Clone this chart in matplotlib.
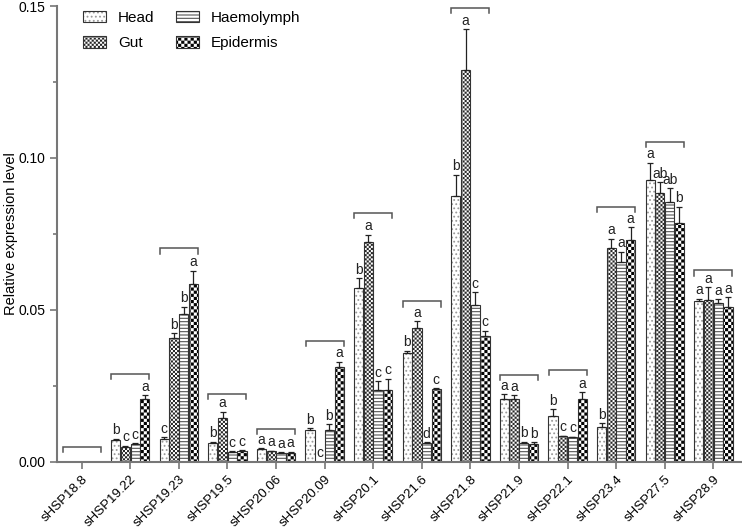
import numpy as np
import matplotlib.pyplot as plt
from matplotlib import hatch as mhatch
from matplotlib.path import Path
from matplotlib.patches import Rectangle
from matplotlib.ticker import MultipleLocator, FormatStrFormatter

plt.rcParams['font.family'] = ['Liberation Sans', 'DejaVu Sans']
plt.rcParams['hatch.linewidth'] = 0.8


# matplotlib has no checkerboard hatch, so swap the '*' (stars) hatch for one
class CheckerHatch(mhatch.HatchPatternBase):
    def __init__(self, hatch, density):
        self.n = hatch.count('*') * 8
        self.filled = True
        self.num_lines = 0
        self.num_vertices = (self.n * self.n // 2) * 5

    def set_vertices_and_codes(self, vertices, codes):
        step = 1.0 / self.n
        # shrink squares so the hatch stroke does not make them too fat
        inset = plt.rcParams['hatch.linewidth'] / 72.0 / 2
        k = 0
        for i in range(self.n):
            for j in range(self.n):
                if (i + j) % 2:
                    continue
                x0, y0 = i * step + inset, j * step + inset
                x1, y1 = (i + 1) * step - inset, (j + 1) * step - inset
                vertices[k:k + 5] = [(x0, y0), (x1, y0), (x1, y1), (x0, y1), (x0, y0)]
                codes[k:k + 5] = [Path.MOVETO, Path.LINETO, Path.LINETO,
                                  Path.LINETO, Path.CLOSEPOLY]
                k += 5


mhatch._hatch_types = [t for t in mhatch._hatch_types if t is not mhatch.Stars] + [CheckerHatch]

genes = ["sHSP18.8", "sHSP19.22", "sHSP19.23", "sHSP19.5", "sHSP20.06", "sHSP20.09",
         "sHSP20.1", "sHSP21.6", "sHSP21.8", "sHSP21.9", "sHSP22.1", "sHSP23.4",
         "sHSP27.5", "sHSP28.9"]
tissues = ["Head", "Gut", "Haemolymph", "Epidermis"]

head = [0, 0.0072, 0.0075, 0.0063, 0.0042, 0.0104, 0.0572, 0.0358, 0.0874, 0.0206, 0.0152, 0.0115, 0.0929, 0.0530]
gut = [0, 0.0050, 0.0409, 0.0145, 0.0034, 0, 0.0722, 0.0440, 0.1288, 0.0206, 0.0084, 0.0704, 0.0883, 0.0532]
haem = [0, 0.0057, 0.0486, 0.0031, 0.0028, 0.0104, 0.0236, 0.0063, 0.0516, 0.0063, 0.0081, 0.0656, 0.0854, 0.0522]
epid = [0, 0.0207, 0.0585, 0.0036, 0.0030, 0.0313, 0.0236, 0.0239, 0.0414, 0.0057, 0.0206, 0.0729, 0.0786, 0.0509]

head_err = [0, 0.0004, 0.0005, 0.0003, 0.0003, 0.0006, 0.0033, 0.0007, 0.0071, 0.0017, 0.0021, 0.0011, 0.0055, 0.0007]
gut_err = [0, 0.0003, 0.0015, 0.0020, 0.0003, 0, 0.0025, 0.0022, 0.0135, 0.0013, 0.0002, 0.0030, 0.0037, 0.0042]
haem_err = [0, 0.0004, 0.0025, 0.0003, 0.0003, 0.0020, 0.0030, 0.0002, 0.0043, 0.0003, 0.0002, 0.0036, 0.0047, 0.0014]
epid_err = [0, 0.0013, 0.0044, 0.0003, 0.0003, 0.0017, 0.0037, 0.0004, 0.0017, 0.0008, 0.0023, 0.0043, 0.0053, 0.0032]

# significance letters per gene, in tissue order
letters = [
    ["", "", "", ""],
    ["b", "c", "c", "a"],
    ["c", "b", "b", "a"],
    ["b", "a", "c", "c"],
    ["a", "a", "a", "a"],
    ["b", "c", "b", "a"],
    ["b", "a", "c", "c"],
    ["b", "a", "d", "c"],
    ["b", "a", "c", "c"],
    ["a", "a", "b", "b"],
    ["b", "c", "c", "a"],
    ["b", "a", "a", "a"],
    ["a", "ab", "ab", "b"],
    ["a", "a", "a", "a"],
]
# height of the bracket drawn over each group
bracket_y = [0.0050, 0.0289, 0.0702, 0.0223, 0.0108, 0.0399, 0.0819, 0.0528,
             0.1493, 0.0286, 0.0302, 0.0839, 0.1053, 0.0630]

values = [head, gut, haem, epid]
errors = [head_err, gut_err, haem_err, epid_err]
hatches = ["....", "******", "-----", "****"]
hatch_colors = ["#9a9a9a", "#262626", "#555555", "#000000"]
edge = "#333333"
axis_gray = "#777777"

fig = plt.figure(figsize=(7.42, 5.32), dpi=100)
ax = fig.add_axes([0.0768, 0.132, 0.9232, 0.8567])

x = np.arange(len(genes))
step = 0.2
width = 0.19

legend_handles = []
for k, tissue in enumerate(tissues):
    pos = x + (k - 1.5) * step
    ax.bar(pos, values[k], width, color="white", edgecolor=hatch_colors[k],
           hatch=hatches[k], linewidth=0)
    ax.bar(pos, values[k], width, fill=False, edgecolor=edge, linewidth=0.8)
    vals = np.array(values[k])
    errs = np.array(errors[k])
    m = vals > 0
    ax.errorbar(pos[m], vals[m], yerr=[np.zeros(m.sum()), errs[m]], fmt="none",
                ecolor="#222222", elinewidth=0.9, capsize=2.5, capthick=0.9)
    for g in range(len(genes)):
        if letters[g][k]:
            ax.annotate(letters[g][k], (pos[g], vals[g] + errs[g]),
                        xytext=(0, 1), textcoords="offset points",
                        ha="center", va="bottom", fontsize=10, color="#222222")
    legend_handles.append((
        Rectangle((0, 0), 1, 1, facecolor="white", edgecolor=hatch_colors[k],
                  hatch=hatches[k], linewidth=0),
        Rectangle((0, 0), 1, 1, fill=False, edgecolor=edge, linewidth=0.8),
    ))

# brackets over each group
arm = 0.0017
for g in range(len(genes)):
    x0, x1 = x[g] - 0.39, x[g] + 0.39
    y = bracket_y[g]
    ax.plot([x0, x0, x1, x1], [y - arm, y, y, y - arm], color="#555555", lw=1.1,
            solid_joinstyle="miter")

ax.set_xlim(-0.508, 13.59)
ax.set_ylim(0, 0.15)
ax.yaxis.set_major_locator(MultipleLocator(0.05))
ax.yaxis.set_minor_locator(MultipleLocator(0.025))
ax.yaxis.set_major_formatter(FormatStrFormatter("%.2f"))
ax.set_xticks(x)
ax.set_xticklabels(genes, rotation=45, ha="right", rotation_mode="anchor", fontsize=9.5)
ax.tick_params(axis="y", labelsize=10)
ax.tick_params(which="both", direction="out", color=axis_gray, width=1.2)
ax.tick_params(which="major", length=5)
ax.tick_params(which="minor", length=3)

for s in ["top", "right"]:
    ax.spines[s].set_visible(False)
for s in ["left", "bottom"]:
    ax.spines[s].set_color(axis_gray)
    ax.spines[s].set_linewidth(1.5)

ax.set_ylabel("Relative expression level", fontsize=10.5)
ax.yaxis.set_label_coords(-0.057, 0.5)

ax.legend(legend_handles, tissues, ncol=2, loc="upper left",
          bbox_to_anchor=(0.038, 0.99), frameon=False, fontsize=11,
          handlelength=1.5, handleheight=0.8, handletextpad=0.8,
          columnspacing=1.4, labelspacing=0.75, borderpad=0, borderaxespad=0)

fig.savefig("out.png", dpi=100)
